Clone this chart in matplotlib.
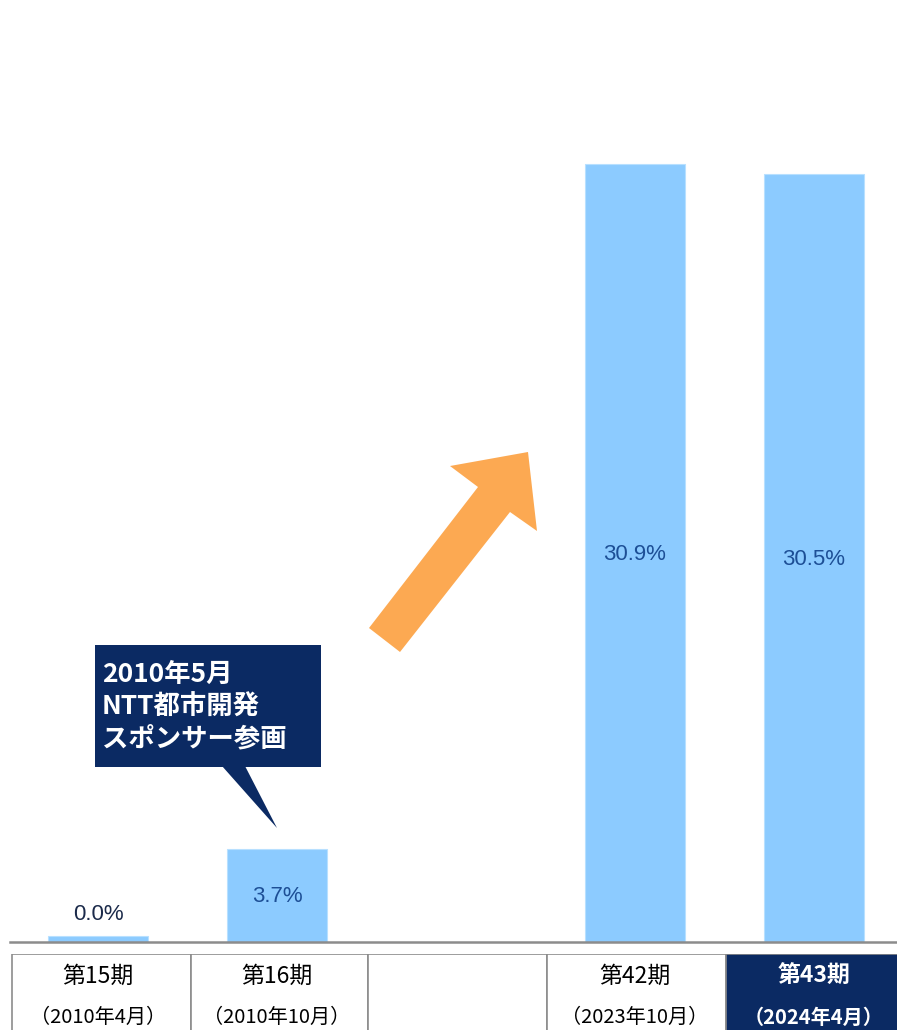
import matplotlib.pyplot as plt
from matplotlib.patches import Rectangle, Polygon

plt.rcParams['font.family'] = ['Noto Sans CJK JP', 'DejaVu Sans']

# data
periods = ["第15期", "第16期", "", "第42期", "第43期"]
dates = ["（2010年4月）", "（2010年10月）", "", "（2023年10月）", "（2024年4月）"]
slots = [0, 1, 3, 4]
values = [0.0, 3.7, 30.9, 30.5]
labels = ["0.0%", "3.7%", "30.9%", "30.5%"]
callout = "2010年5月\nNTT都市開発\nスポンサー参画"

W, H = 897, 1030
fig = plt.figure(figsize=(W / 100, H / 100), dpi=100)
navy = "#0b2a63"
bar_c = "#8ccbff"
num_font = ["Arial", "Liberation Sans", "DejaVu Sans"]

ax = fig.add_axes([10 / W, (H - 942) / H, 887 / W, 942 / H])
xlo, xhi = -0.492, 4.464
ax.set_xlim(xlo, xhi)
ax.set_ylim(0, 37.4)

# 0.0 would be invisible, keep a thin sliver like the original
shown = [max(v, 0.25) for v in values]
ax.bar(slots, shown, width=0.555, color=bar_c, edgecolor="#b8e0ff", linewidth=0.8)

for x, v, s, lab in zip(slots, values, shown, labels):
    if v < 1:
        ax.text(x, s + 0.85, lab, ha="center", va="center", fontsize=16,
                color="#1b2a4a", family=num_font)
    else:
        ax.text(x, s / 2 - 0.05, lab, ha="center", va="center", fontsize=16,
                color="#1d4f96", family=num_font)

for sp in ["top", "right", "left"]:
    ax.spines[sp].set_visible(False)
ax.spines["bottom"].set_color("#8c8c8c")
ax.spines["bottom"].set_linewidth(1.8)
ax.set_xticks([])
ax.set_yticks([])

# helpers: pixel position -> axes fraction
def fx(px):
    return (px - 10) / 887

def fy(py):
    return (942 - py) / 942

# growth arrow
ax.add_patch(Polygon([(fx(369), fy(628)), (fx(400), fy(652)), (fx(510), fy(512)),
                      (fx(537), fy(531)), (fx(528), fy(452)), (fx(450), fy(466)),
                      (fx(478), fy(487))],
                     closed=True, transform=ax.transAxes, facecolor="#fca952",
                     edgecolor="none", clip_on=False))

# callout box
ax.add_patch(Rectangle((fx(95), fy(767)), fx(321) - fx(95), fy(645) - fy(767),
                       transform=ax.transAxes, facecolor=navy, edgecolor="none"))
ax.add_patch(Polygon([(fx(222), fy(766)), (fx(245), fy(766)), (fx(277), fy(828))],
                     closed=True, transform=ax.transAxes, facecolor=navy,
                     edgecolor="none"))
ax.text(fx(102), fy(707), callout, transform=ax.transAxes, ha="left", va="center",
        color="white", fontsize=19, fontweight="bold", linespacing=1.25)

# table below
tab = fig.add_axes([10 / W, 0, 887 / W, (H - 954) / H])
tab.set_xlim(xlo, xhi)
tab.set_ylim(0, 1)
tab.axis("off")
edges = [-0.48, 0.52, 1.51, 2.51, 3.51, 4.6]
for i in range(5):
    last = i == 4
    tab.add_patch(Rectangle((edges[i], -0.5), edges[i + 1] - edges[i], 1.5,
                            facecolor=navy if last else "white",
                            edgecolor="#8c8c8c", linewidth=1.2, clip_on=True))
    col = "white" if last else "black"
    tab.text(i, 0.7, periods[i], ha="center", va="center", fontsize=16.5,
             color=col, fontweight="bold" if last else "normal")
    tab.text(i, 0.16, dates[i], ha="center", va="center", fontsize=14.5,
             color=col, fontweight="bold" if last else "normal")

fig.savefig("out.png", dpi=100)
